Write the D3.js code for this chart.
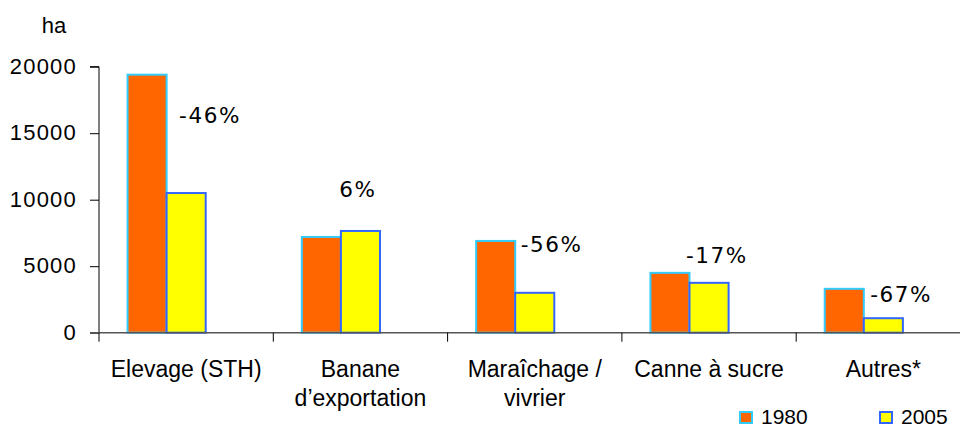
<!DOCTYPE html>
<html>
<head>
<meta charset="utf-8">
<script src="https://cdn.jsdelivr.net/npm/d3@7"></script>
<style>
  html, body { margin: 0; padding: 0; background: #fff; }
  svg { display: block; }
  text { font-family: "Liberation Sans", Arial, sans-serif; fill: #000; }
  .pct { font-family: "DejaVu Sans", Verdana, sans-serif; }
</style>
</head>
<body>
<svg id="chart" width="960" height="429"></svg>
<script>
// ---- data ----
const categories = ["Elevage (STH)", "Banane\nd\u2019exportation", "Maraîchage /\nvivrier", "Canne à sucre", "Autres*"];
const seriesNames = ["1980", "2005"];
const values1980 = [19400, 7200, 6900, 4500, 3300];
const values2005 = [10500, 7650, 3000, 3750, 1090];
const changeLabels = ["-46%", "6%", "-56%", "-17%", "-67%"];
// annotation anchors (value at baseline, position within category band)
const changeLabelValue = [15800, 10180, 6050, 5230, 2300];
const changeLabelBandPos = [0.637, 0.486, 0.597, 0.545, 0.602];
const yTicks = [0, 5000, 10000, 15000, 20000];
const yUnit = "ha";

// ---- layout ----
const svg = d3.select("#chart");
const mLeft = 99, mTop = 66.7, mBottom = 332.7;
const bandW = 174.3;

const x = d3.scaleBand()
  .domain(categories)
  .range([mLeft, mLeft + bandW * categories.length])
  .paddingInner(0).paddingOuter(0);

// three slots per band (third slot empty)
const inner = d3.scaleBand()
  .domain(["1980", "2005", "_"])
  .range([0, x.bandwidth()])
  .paddingInner(0)
  .paddingOuter(0.73);

const y = d3.scaleLinear().domain([0, 20000]).range([mBottom, mTop]);

const fills = { "1980": "#FF6600", "2005": "#FFFF00" };
const strokes = { "1980": "#33CCFF", "2005": "#3366FF" };

// y axis
const yAxis = svg.append("g")
  .attr("transform", `translate(${mLeft},0)`)
  .call(d3.axisLeft(y).tickValues(yTicks).tickSize(9).tickPadding(13).tickFormat(d3.format("d")));
yAxis.select(".domain").attr("stroke", "#000").attr("d", `M-9,${mTop}H0V${mBottom}`);
yAxis.selectAll(".tick line").attr("stroke", "#000");
yAxis.selectAll(".tick text")
  .style("font-family", "'Liberation Sans', Arial, sans-serif")
  .style("font-size", "22px")
  .style("letter-spacing", "1.2px")
  .attr("dy", "0.3em");

// unit label
svg.append("text").attr("x", 54).attr("y", 33)
  .attr("text-anchor", "middle")
  .style("font-size", "22px").text(yUnit);

// bars
const groups = svg.append("g").selectAll("g")
  .data(categories.map((c, i) => ({ c, i })))
  .join("g")
  .attr("transform", d => `translate(${x(d.c)},0)`);

groups.selectAll("rect")
  .data(d => [
    { s: "1980", v: values1980[d.i] },
    { s: "2005", v: values2005[d.i] }
  ])
  .join("rect")
  .attr("x", d => inner(d.s))
  .attr("y", d => y(d.v))
  .attr("width", inner.bandwidth())
  .attr("height", d => y(0) - y(d.v))
  .attr("fill", d => fills[d.s])
  .attr("stroke", d => strokes[d.s])
  .attr("stroke-width", 2);

// x axis
const xAxisG = svg.append("g").attr("transform", `translate(0,${mBottom})`);
xAxisG.append("line")
  .attr("x1", mLeft - 9).attr("x2", 960)
  .attr("stroke", "#555").attr("stroke-width", 1.5);
const boundaries = categories.map(c => x(c));
xAxisG.selectAll("line.tk")
  .data(boundaries)
  .join("line")
  .attr("class", "tk")
  .attr("x1", d => d).attr("x2", d => d)
  .attr("y1", 0).attr("y2", 9)
  .attr("stroke", "#000");

// category labels
const catLabels = svg.append("g").selectAll("text")
  .data(categories)
  .join("text")
  .attr("text-anchor", "middle")
  .attr("x", d => x(d) + x.bandwidth() / 2)
  .attr("y", 377)
  .style("font-size", "23px");
catLabels.selectAll("tspan")
  .data(d => d.split("\n"))
  .join("tspan")
  .attr("x", function () { return d3.select(this.parentNode).attr("x"); })
  .attr("dy", (d, i) => i === 0 ? 0 : 29)
  .text(d => d);

// percentage labels
svg.append("g").selectAll("text")
  .data(categories.map((c, i) => ({ c, i })))
  .join("text")
  .attr("class", "pct")
  .attr("text-anchor", "middle")
  .attr("x", d => x(d.c) + x.bandwidth() * changeLabelBandPos[d.i])
  .attr("y", d => y(changeLabelValue[d.i]))
  .style("font-size", "21.5px")
  .style("letter-spacing", "1.6px")
  .text(d => changeLabels[d.i]);

// legend
const legendItems = [
  { s: "1980", x: 740 },
  { s: "2005", x: 880 }
];
const lg = svg.append("g").selectAll("g")
  .data(legendItems)
  .join("g")
  .attr("transform", d => `translate(${d.x},412)`);
lg.append("rect")
  .attr("width", 12).attr("height", 11)
  .attr("fill", d => fills[d.s])
  .attr("stroke", d => strokes[d.s])
  .attr("stroke-width", 2);
lg.append("text")
  .attr("x", 21).attr("y", 11.5)
  .style("font-size", "21px")
  .text(d => d.s);
</script>
</body>
</html>
